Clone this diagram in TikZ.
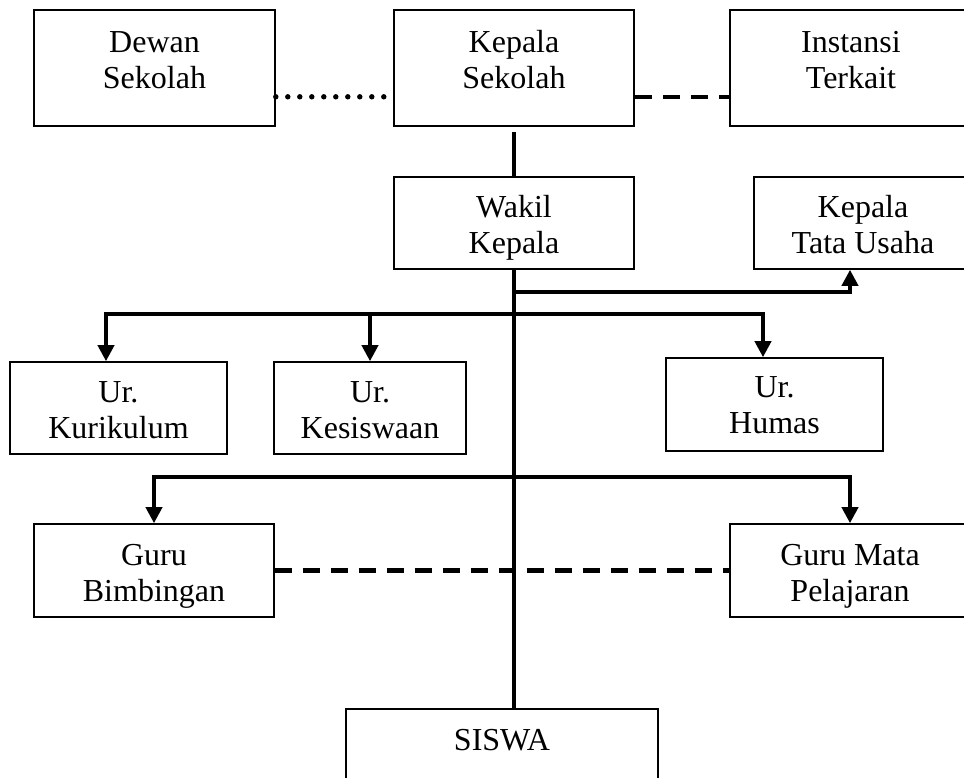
\documentclass[tikz,border=0pt]{standalone}
\usepackage{fontspec}
\setmainfont{Liberation Serif}
\usetikzlibrary{arrows.meta,calc}
\tikzset{
  box/.style={draw=black, line width=1.6pt, rectangle, inner sep=0pt},
  lbl/.style={align=center, inner sep=0pt, font=\fontsize{32}{36}\selectfont},
  conn/.style={line width=3.8pt},
  arr/.style={line width=3.8pt, -{Triangle[width=16pt,length=16pt]}},
  dotline/.style={line width=5.4pt, line cap=round, dash pattern=on 0pt off 12pt},
  dashline/.style={line width=4.4pt, dash pattern=on 17pt off 11pt}
}
\begin{document}
\begin{tikzpicture}[x=1pt,y=-1pt]
\useasboundingbox (0,0) rectangle (964,777);
\clip (0,0) rectangle (964,777);
\fill[white] (0,0) rectangle (964,777);
% boxes
\node[box, minimum width=241pt, minimum height=116pt] (dewan) at (154.5,68) {};
\node[box, minimum width=240pt, minimum height=116pt] (kepsek) at (514,68) {};
\node[box, minimum width=242pt, minimum height=116pt] (instansi) at (851,68) {};
\node[box, minimum width=240pt, minimum height=92pt] (wakil) at (514,223) {};
\node[box, minimum width=218pt, minimum height=92pt] (tu) at (863,223) {};
\node[box, minimum width=217pt, minimum height=92pt] (kur) at (118.5,408) {};
\node[box, minimum width=192pt, minimum height=92pt] (kes) at (370,408) {};
\node[box, minimum width=217pt, minimum height=93pt] (humas) at (774.5,404.5) {};
\node[box, minimum width=240pt, minimum height=93pt] (gb) at (154,570.5) {};
\node[box, minimum width=240pt, minimum height=93pt] (gm) at (850,570.5) {};
\node[box, minimum width=312pt, minimum height=100pt] (siswa) at (502,759) {};
% labels
\node[lbl] (dewanT) at (154.5,62.8) {\strut Dewan\\\strut Sekolah};
\node[lbl] (kepsekT) at (514,62.8) {\strut Kepala\\\strut Sekolah};
\node[lbl] (instansiT) at (851,62.8) {\strut Instansi\\\strut Terkait};
\node[lbl] (wakilT) at (514,227.8) {\strut Wakil\\\strut Kepala};
\node[lbl] (tuT) at (863,227.8) {\strut Kepala\\\strut Tata Usaha};
\node[lbl] (kurT) at (118.5,412.8) {\strut Ur.\\\strut Kurikulum};
\node[lbl] (kesT) at (370,412.8) {\strut Ur.\\\strut Kesiswaan};
\node[lbl] (humasT) at (774.5,408.5) {\strut Ur.\\\strut Humas};
\node[lbl] (gbT) at (154,575.8) {\strut Guru\\\strut Bimbingan};
\node[lbl] (gmT) at (850,575.8) {\strut Guru Mata\\\strut Pelajaran};
\node[lbl] (siswaT) at (502,742.8) {\strut SISWA};
% junction coordinates
\coordinate (jtu) at (514,292);
\coordinate (j1) at (514,314);
\coordinate (j2) at (514,477);
% top connectors
\draw[dotline] ($(dewan.south east)+(0,-30)$) -- ($(kepsek.south west)+(-8,-30)$);
\draw[dashline] ($(kepsek.south east)+(0,-30)$) -- ($(instansi.south west)+(0,-30)$);
\draw[conn] ($(kepsek.south)+(0,5)$) -- (wakil.north);
\draw[conn] (wakil.south) -- (wakil.south |- siswa.north);
% to Tata Usaha
\draw[arr] (jtu) -| ($(tu.south)+(-13,0)$);
% urusan
\draw[arr] (j1) -| ($(kur.north)+(-12.5,0)$);
\draw[arr] (j1) -| ($(humas.north)+(-11.5,0)$);
\draw[arr] (kes.north |- j1) -- (kes.north);
% guru
\draw[arr] (j2) -| (gb.north);
\draw[arr] (j2) -| (gm.north);
\draw[dashline] (gb.east) -- (gm.west);
\end{tikzpicture}
\end{document}
